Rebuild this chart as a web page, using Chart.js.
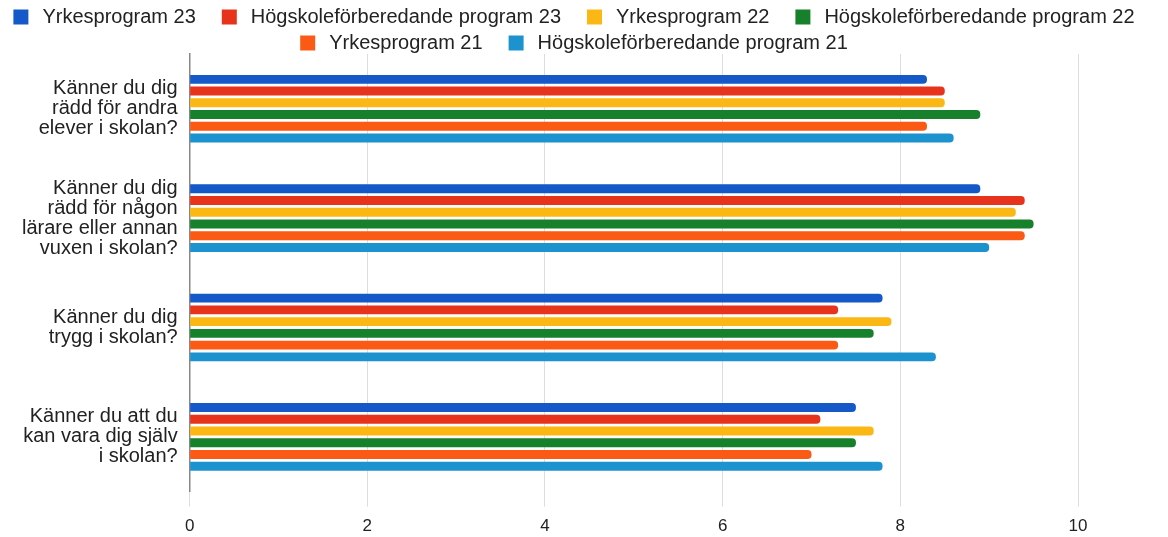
<!DOCTYPE html>
<html>
<head>
<meta charset="utf-8">
<script src="https://cdn.jsdelivr.net/npm/chart.js@4"></script>
<style>
  html, body { margin: 0; padding: 0; background: #fff; }
</style>
</head>
<body>
<canvas id="grafico" width="1168" height="537"></canvas>
<script>
// frågor (y-axel)
const fragor = [
    ['Känner du dig', 'rädd för andra', 'elever i skolan?'],
    ['Känner du dig', 'rädd för någon', 'lärare eller annan', 'vuxen i skolan?'],
    ['Känner du dig', 'trygg i skolan?'],
    ['Känner du att du', 'kan vara dig själv', 'i skolan?']
];

const serieNamn = [
    'Yrkesprogram 23', 'Högskoleförberedande program 23',
    'Yrkesprogram 22', 'Högskoleförberedande program 22',
    'Yrkesprogram 21', 'Högskoleförberedande program 21'
];

const yrk23 = [8.3, 8.9, 7.8, 7.5];
const hog23 = [8.5, 9.4, 7.3, 7.1];
const yrk22 = [8.5, 9.3, 7.9, 7.7];
const hog22 = [8.9, 9.5, 7.7, 7.5];
const yrk21 = [8.3, 9.4, 7.3, 7.0];
const hog21 = [8.6, 9.0, 8.4, 7.8];

const xTicks = [0, 2, 4, 6, 8, 10];

const farger = ['#1558c8', '#e8331c', '#fbb815', '#17802a', '#fa5a14', '#1c93cf'];
const serier = [yrk23, hog23, yrk22, hog22, yrk21, hog21];

const ctx = document.getElementById('grafico').getContext('2d');
new Chart(ctx, {
    type: 'bar',
    data: {
        labels: fragor,
        datasets: serier.map((d, i) => ({
            label: serieNamn[i],
            data: d,
            backgroundColor: farger[i],
            borderRadius: 4,
            borderSkipped: 'start',
            barPercentage: 0.76,
            categoryPercentage: 0.644
        }))
    },
    options: {
        indexAxis: 'y',
        responsive: false,
        animation: false,
        layout: { padding: { top: 1, left: 0, right: 0, bottom: -10 } },
        plugins: {
            legend: {
                position: 'top',
                maxHeight: 53,
                labels: {
                    boxWidth: 15,
                    boxHeight: 15,
                    padding: 6,
                    color: '#222',
                    font: { family: 'Liberation Sans, Arial, sans-serif', size: 20 },
                    generateLabels: (chart) => {
                        const items = Chart.defaults.plugins.legend.labels.generateLabels(chart);
                        // lite extra luft mellan posterna
                        items.forEach(it => { it.text = '\u2009' + it.text + '\u2003'; });
                        return items;
                    }
                }
            },
            tooltip: { enabled: false }
        },
        scales: {
            x: {
                min: 0,
                max: 10,
                afterBuildTicks: (axis) => { axis.ticks = xTicks.map(v => ({ value: v })); },
                afterFit: (axis) => { axis.paddingRight = 90; },
                grid: { color: '#dddddd', tickLength: 15, drawTicks: true },
                border: { display: false },
                ticks: {
                    padding: 10,
                    color: '#222',
                    font: { family: 'Liberation Sans, Arial, sans-serif', size: 17 }
                }
            },
            y: {
                afterFit: (axis) => { axis.width += 10; },
                grid: { display: false, drawTicks: false },
                border: { display: true, color: '#888', width: 1.5 },
                ticks: {
                    padding: 12,
                    color: '#222',
                    font: { family: 'Liberation Sans, Arial, sans-serif', size: 20, lineHeight: 1.0 }
                }
            }
        }
    }
});
</script>
</body>
</html>
